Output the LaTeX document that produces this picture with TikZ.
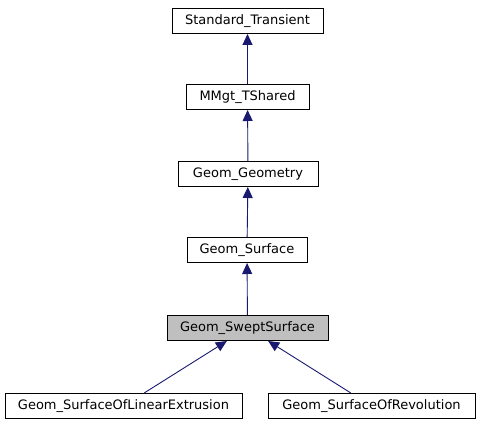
\documentclass[tikz,border=0pt]{standalone}
\usepackage{fontspec}
\setmainfont{DejaVu Sans}
\usetikzlibrary{arrows.meta}
\definecolor{edgeblue}{HTML}{191970}

\begin{document}
\begin{tikzpicture}[x=1pt, y=-1pt,
    cls/.style={rectangle, draw, line width=1pt, fill=white, minimum height=25pt, inner sep=0pt, font=\fontsize{13}{15}\selectfont},
    cur/.style={cls, fill=black!25},
    inh/.style={draw=edgeblue, line width=0.9pt, -{Triangle[length=11pt, width=10pt]}}]

    \useasboundingbox (0,0) rectangle (480,427);

    \node[cls, minimum width=151pt] (ST) at (247.5,21) {Standard\_Transient};
    \node[cls, minimum width=123pt] (MT) at (247.5,97) {MMgt\_TShared};
    \node[cls, minimum width=140pt] (GG) at (248,174) {Geom\_Geometry};
    \node[cls, minimum width=120pt] (GS) at (247,250) {Geom\_Surface};
    \node[cur, minimum width=161pt] (SW) at (247.5,328) {Geom\_SweptSurface};

    \node[cls, minimum width=237pt] (LE) at (123.5,406) {Geom\_SurfaceOfLinearExtrusion};
    \node[cls, minimum width=207pt] (RV) at (371.5,406) {Geom\_SurfaceOfRevolution};

    \draw[inh] (MT) -- (ST);
    \draw[inh] (GG) -- (MT);
    \draw[inh] (GS) -- (GG);
    \draw[inh] (SW) -- (GS);
    \draw[inh] (LE) -- (SW);
    \draw[inh] (RV) -- (SW);
\end{tikzpicture}
\end{document}
